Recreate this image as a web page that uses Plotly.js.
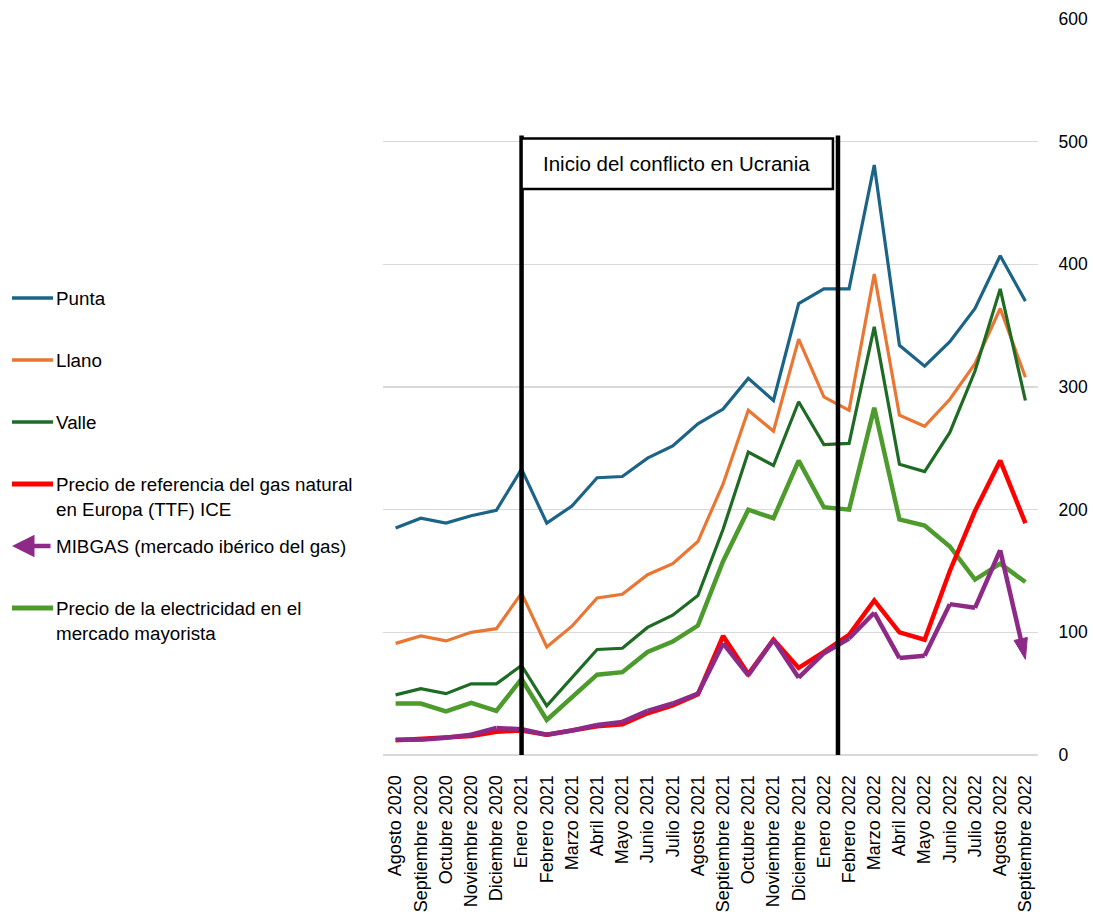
<!DOCTYPE html>
<html>
<head>
<meta charset="utf-8">
<script src="https://cdn.plot.ly/plotly-3.0.1.min.js"></script>
<style>html,body{margin:0;padding:0;background:#fff;}#chart{width:1093px;height:924px;}</style>
</head>
<body>
<div id="chart"></div>
<script>
const months = ["Agosto 2020","Septiembre 2020","Octubre 2020","Noviembre 2020","Diciembre 2020","Enero 2021","Febrero 2021","Marzo 2021","Abril 2021","Mayo 2021","Junio 2021","Julio 2021","Agosto 2021","Septiembre 2021","Octubre 2021","Noviembre 2021","Diciembre 2021","Enero 2022","Febrero 2022","Marzo 2022","Abril 2022","Mayo 2022","Junio 2022","Julio 2022","Agosto 2022","Septiembre 2022"];
const punta = [185,193,189,195,199.5,233,189,203,226,227,242,252,270,282,307,289,368,380,380,481,334,317,337,364,407,370];
const llano = [91,97,93,100,103,132,88,105,128,131,147,156,174,221,281,264,339,292,281,392,277,268,290,319,364,308];
const valle = [49,54,50,58,58,73,40,63,86,87,104,114,130,184,247,236,288,253,254,349,237,231,263,313,380,289];
const ttf = [12,13,14.5,15.5,19,20,16.5,20,23.5,25,34,40.5,49.5,97,66,94,71,84,98,126,100,94,150,199,240,189];
const mibgas = [12.5,12.5,14,16.5,22,21,16.5,20,24.5,27,36,42,50,91,65,94,63,83,95,116,79,81,123,120,167,78];
const electricidad = [42,42,35.5,42.5,36,62,28.5,46.5,65.5,67.5,84,92.5,105.5,158,200,193,240,202,200,283,192,187,170,143,156,141];
const yTicks = [0,100,200,300,400,500,600];
const conflictLabel = "Inicio del conflicto en Ucrania";
const legendNames = ["Punta","Llano","Valle","Precio de referencia del gas natural|en Europa (TTF) ICE","MIBGAS (mercado ibérico del gas)","Precio de la electricidad en el|mercado mayorista"];

const C = {punta:"#1B6487", llano:"#EA7633", valle:"#1E6B24", ttf:"#FF0000", mib:"#8D2A87", elec:"#4C9B2C"};
const font = "Liberation Sans, Arial, sans-serif";

function tr(y, color, width){
  return {x: months, y: y, type:"scatter", mode:"lines", line:{color:color, width:width}, hoverinfo:"skip", showlegend:false};
}
const mibSizes = mibgas.map((v,i)=> i===mibgas.length-1 ? 22 : 0);
const traces = [
  tr(punta, C.punta, 3.2),
  tr(llano, C.llano, 3.2),
  tr(valle, C.valle, 3.2),
  tr(electricidad, C.elec, 4.5),
  tr(ttf, C.ttf, 4.5),
  {x: months, y: mibgas, type:"scatter", mode:"lines+markers", line:{color:C.mib, width:4.5},
   marker:{symbol:"arrow", angleref:"previous", size:mibSizes, color:C.mib, opacity:1, line:{width:1, color:C.mib}}, hoverinfo:"skip", showlegend:false}
];

// layout geometry (pixels)
const W=1093, H=924, ml=383, mr=55, mt=19, mb=169;
const pw = W-ml-mr, ph = H-mt-mb;
const px = p => (p-ml)/pw;
const py = p => (H-mb-p)/ph;

const shapes = [
  {type:"line", xref:"x", yref:"y", x0:5, x1:5, y0:-11, y1:505, line:{color:"#000", width:4.5}, layer:"above"},
  {type:"line", xref:"x", yref:"y", x0:17.56, x1:17.56, y0:-11, y1:505, line:{color:"#000", width:4.5}, layer:"above"},
  {type:"rect", xref:"x", yref:"y", x0:5, x1:17.36, y0:461.5, y1:502.5, line:{color:"#000", width:2.5}, fillcolor:"#fff", layer:"above"}
];
const annotations = [
  {xref:"x", yref:"y", x:11.15, y:482, text:conflictLabel, showarrow:false, font:{family:font, size:20.5, color:"#000"}}
];
const legendColors = [C.punta, C.llano, C.valle, C.ttf, C.mib, C.elec];
const legendWidths = [3.5,3.5,3.5,5,5,5];
const legendY = [298,360,422,484,546,608];
legendNames.forEach((name,i)=>{
  const yy = legendY[i];
  if(i===4){
    annotations.push({xref:"paper", yref:"paper", x:px(12), y:py(yy), ax:px(52), ay:py(yy), axref:"paper", ayref:"paper",
      text:"", showarrow:true, arrowhead:2, arrowsize:1, arrowwidth:4.5, arrowcolor:C.mib, standoff:0, startstandoff:0});
  } else {
    shapes.push({type:"line", xref:"paper", yref:"paper", x0:px(12), x1:px(53), y0:py(yy), y1:py(yy), line:{color:legendColors[i], width:legendWidths[i]}});
  }
  name.split("|").forEach((ln,j)=>{
    annotations.push({xref:"paper", yref:"paper", x:px(54), y:py(yy+25*j), xanchor:"left", yanchor:"middle", text:ln, showarrow:false, font:{family:font, size:18.8, color:"#000"}});
  });
});

const layout = {
  width:W, height:H, margin:{l:ml, r:mr, t:mt, b:mb, pad:0},
  paper_bgcolor:"#fff", plot_bgcolor:"#fff", showlegend:false,
  font:{family:font, color:"#000"},
  xaxis:{type:"category", range:[-0.5, 25.5], tickangle:-90, tickfont:{family:font, size:18, color:"#000"}, showgrid:false, zeroline:false, showline:false,
    ticks:"outside", ticklen:12, tickcolor:"rgba(0,0,0,0)", fixedrange:true},
  yaxis:{side:"right", range:[0,600], tickvals:yTicks, ticktext:yTicks.map(String), showgrid:true, gridcolor:"#d9d9d9", gridwidth:1.3,
    zeroline:true, zerolinecolor:"#d9d9d9", zerolinewidth:1.3, showline:false, ticks:"outside", ticklen:16, tickcolor:"rgba(0,0,0,0)",
    tickfont:{family:font, size:17.5, color:"#000"}, fixedrange:true},
  shapes:shapes, annotations:annotations
};
Plotly.newPlot("chart", traces, layout, {displayModeBar:false, staticPlot:true});
</script>
</body>
</html>
